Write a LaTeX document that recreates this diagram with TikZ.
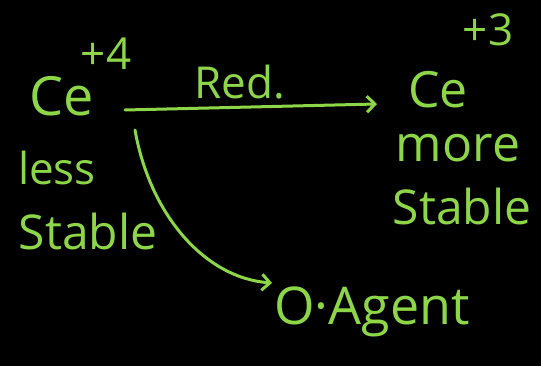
\documentclass[tikz,border=0pt]{standalone}
\usepackage{fontspec}
\setmainfont{Open Sans}
\usetikzlibrary{arrows.meta}
\definecolor{chalk}{RGB}{140,214,72}
\begin{document}
\begin{tikzpicture}[x=1pt,y=-1pt,
  ink/.style={text=chalk,inner sep=0pt,font=\fontsize{#1}{#1}\selectfont},
  ink/.default=44,
  stroke/.style={draw=chalk,line width=3pt,line cap=round,
    -{Straight Barb[length=8pt,width=16pt,line width=3pt]}}]
  \fill[black] (0,0) rectangle (541,366);
  \useasboundingbox (0,0) rectangle (541,366);
  % oxidised state
  \node[ink=54] (ce4) at (62,96) {Ce};
  \node[ink=44] (ch4) at (106,54) {+4};
  \node[ink=44] (less) at (57,168) {less};
  \node[ink=48] (st1) at (88,232) {Stable};
  % reduced state
  \node[ink=50] (ce3) at (438,90) {Ce};
  \node[ink=44] (ch3) at (488,30) {+3};
  \node[ink=50] (more) at (458,148) {more};
  \node[ink=48] (st2) at (462,207) {Stable};
  % labels
  \node[ink=44] (red) at (240,82) {Red.};
  \node[ink=52] (oag) at (372,312) {O·Agent};
  % connectors
  \coordinate (a0) at (125,110);
  \coordinate (a1) at (377,104);
  \draw[stroke] (a0) -- (a1);
  \coordinate (b0) at (135,130);
  \coordinate (b1) at (272,283);
  \draw[stroke] (b0) .. controls (150,215) and (205,278) .. (b1);
\end{tikzpicture}
\end{document}
